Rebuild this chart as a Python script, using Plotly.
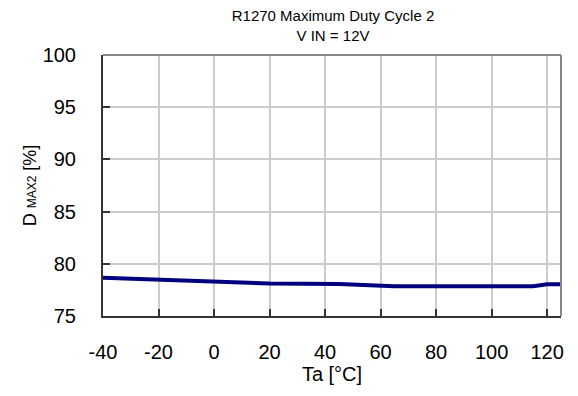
import plotly.graph_objects as go

temps = [-40, -20, 0, 20, 45, 60, 65, 85, 105, 115, 120, 125]
duty = [78.67, 78.48, 78.29, 78.12, 78.06, 77.95, 77.85, 77.85, 77.85, 77.85, 78.03, 78.05]

x_ticks = [-40, -20, 0, 20, 40, 60, 80, 100, 120]
y_ticks = [75, 80, 85, 90, 95, 100]

font = "Liberation Sans, Arial, sans-serif"

# page body has an 8px margin: compensate
W, H = 562, 380
L, R, T, B = 95, 6, 47, 71

fig = go.Figure()
fig.add_trace(go.Scatter(x=temps, y=duty, mode="lines",
                         line=dict(color="#00007f", width=4), showlegend=False))

fig.update_layout(
    width=W, height=H,
    margin=dict(l=L, r=R, t=T, b=B),
    paper_bgcolor="white", plot_bgcolor="white",
    font=dict(family=font, color="black"),
    title=dict(text="R1270 Maximum Duty Cycle 2<br>V IN = 12V",
               x=(333 - 8) / W, xanchor="center",
               y=1 - (21 - 8) / H, yanchor="middle",
               font=dict(size=15, family=font)),
)
fig.update_xaxes(
    range=[-40, 125], tickvals=x_ticks, ticktext=[str(v) for v in x_ticks],
    showgrid=True, gridcolor="#cccccc", gridwidth=1.5,
    showline=True, linecolor="#333333", linewidth=2,
    ticks="inside", ticklen=7, tickcolor="#333333", tickwidth=1.5,
    ticklabelstandoff=17,
    tickfont=dict(size=20), zeroline=False,
    title=dict(text="Ta [°C]", font=dict(size=20), standoff=5),
)
fig.update_yaxes(
    range=[75, 100], tickvals=y_ticks,
    showgrid=True, gridcolor="#cccccc", gridwidth=1.5,
    showline=True, linecolor="#333333", linewidth=2,
    ticks="inside", ticklen=7, tickcolor="#333333", tickwidth=1.5,
    ticklabelstandoff=21,
    tickfont=dict(size=20), zeroline=False,
    title=dict(text="D <span style='font-size:12px'>MAX2</span> [%]", font=dict(size=18), standoff=1),
)
# top and right border in grey
fig.add_shape(type="line", xref="paper", yref="paper", x0=0, x1=1, y0=1, y1=1,
              line=dict(color="#888888", width=2))
fig.add_shape(type="line", xref="paper", yref="paper", x0=1, x1=1, y0=0, y1=1,
              line=dict(color="#888888", width=2))

fig.write_html("out.html")
